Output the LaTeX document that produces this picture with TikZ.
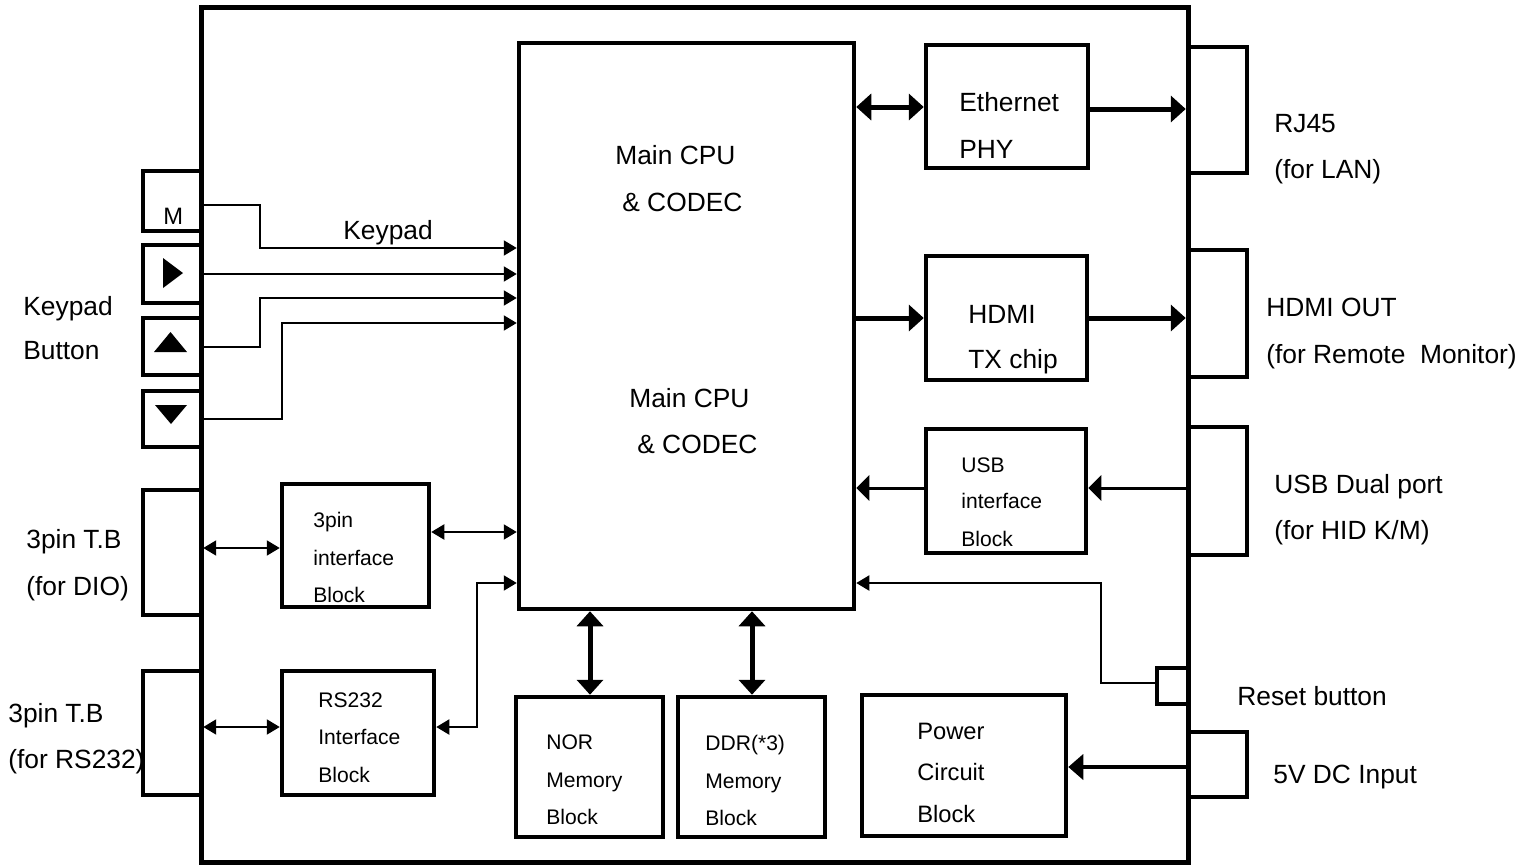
\documentclass[tikz,border=0pt]{standalone}
\usepackage{fontspec}
\setmainfont{Liberation Sans}
\usetikzlibrary{arrows.meta,fit}
\begin{document}
\begin{tikzpicture}[x=0.02cm,y=-0.02cm,
  blk/.style={draw, line width=0.09cm, inner sep=0pt},
  lbl/.style={anchor=base west, inner sep=0pt, font=\fontsize{15}{18}\selectfont},
  slbl/.style={anchor=base west, inner sep=0pt, font=\fontsize{12}{14}\selectfont},
  mlbl/.style={anchor=base west, inner sep=0pt, font=\fontsize{13.5}{16}\selectfont},
  conthin/.style={line width=0.04cm, >={Triangle[length=0.26cm,width=0.3cm]}},
  conmid/.style={line width=0.06cm, >={Triangle[length=0.26cm,width=0.5cm]}},
  conthick/.style={line width=0.1cm, >={Triangle[length=0.3cm,width=0.52cm]}},
  conpow/.style={line width=0.08cm, >={Triangle[length=0.3cm,width=0.5cm]}}
]
\useasboundingbox (0,0) rectangle (1534,866);
% outer enclosure
\node[draw, line width=0.1cm, inner sep=0pt, fit={(201,7) (1188,862)}] (outer) {};
% main blocks
\node[blk, fit={(519,43) (854,609)}] (cpu) {};
\node[blk, fit={(926,45) (1088,168)}] (eth) {};
\node[blk, fit={(926,256) (1087,380)}] (hdmi) {};
\node[blk, fit={(926,429) (1086,553)}] (usbif) {};
\node[blk, fit={(862,695) (1066,836)}] (power) {};
\node[blk, fit={(516,697) (663,837)}] (nor) {};
\node[blk, fit={(678,697) (825,837)}] (ddr) {};
\node[blk, fit={(282,484) (429,607)}] (pinif) {};
\node[blk, fit={(282,671) (434,795)}] (rsif) {};
% left connectors
\node[blk, fit={(143,490) (201,615)}] (diotb) {};
\node[blk, fit={(143,671) (201,795)}] (rstb) {};
\node[blk, fit={(143,171) (201,231)}] (mkey) {};
\node[blk, fit={(143,245) (201,303)}] (rkey) {};
\node[blk, fit={(143,318) (201,375)}] (ukey) {};
\node[blk, fit={(143,391) (201,447)}] (dkey) {};
% right connectors
\node[blk, fit={(1188,47) (1247,173)}] (rj45) {};
\node[blk, fit={(1188,250) (1247,377)}] (hdmiout) {};
\node[blk, fit={(1188,427) (1247,555)}] (usbport) {};
\node[blk, fit={(1157,668) (1188,704)}] (reset) {};
\node[blk, fit={(1188,732) (1247,797)}] (dc) {};
% key glyphs
\fill (163,258) -- (183,273) -- (163,288) -- cycle;
\fill (154,352) -- (170.5,332) -- (187,352) -- cycle;
\fill (155,405) -- (187,405) -- (171,424) -- cycle;
% texts
\node[lbl] (t1) at (615,164) {Main CPU};
\node[lbl] (t2) at (622,211) {\& CODEC};
\node[lbl] (t3) at (629,407) {Main CPU};
\node[lbl] (t4) at (637,453) {\& CODEC};
\node[lbl] (t5) at (959,111) {Ethernet};
\node[lbl] (t6) at (959,158) {PHY};
\node[lbl] (t7) at (968,323) {HDMI};
\node[lbl] (t8) at (968,368) {TX chip};
\node[slbl] (t9) at (961,472) {USB};
\node[slbl] (t10) at (961,508) {interface};
\node[slbl] (t11) at (961,546) {Block};
\node[mlbl] (t12) at (917,739) {Power};
\node[mlbl] (t13) at (917,780) {Circuit};
\node[mlbl] (t14) at (917,822) {Block};
\node[slbl] (t15) at (546,749) {NOR};
\node[slbl] (t16) at (546,787) {Memory};
\node[slbl] (t17) at (546,824) {Block};
\node[slbl] (t18) at (705,750) {DDR(*3)};
\node[slbl] (t19) at (705,788) {Memory};
\node[slbl] (t20) at (705,825) {Block};
\node[slbl] (t21) at (313,527) {3pin};
\node[slbl] (t22) at (313,565) {interface};
\node[slbl] (t23) at (313,602) {Block};
\node[slbl] (t24) at (318,707) {RS232};
\node[slbl] (t25) at (318,744) {Interface};
\node[slbl] (t26) at (318,782) {Block};
\node[lbl] (t27) at (343,239) {Keypad};
\node[mlbl] (t28) at (163,224) {M};
\node[lbl] (t29) at (23,315) {Keypad};
\node[lbl] (t30) at (23,359) {Button};
\node[lbl] (t31) at (26,548) {3pin T.B};
\node[lbl] (t32) at (26,595) {(for DIO)};
\node[lbl] (t33) at (8,722) {3pin T.B};
\node[lbl] (t34) at (8,768) {(for RS232)};
\node[lbl] (t35) at (1274,132) {RJ45};
\node[lbl] (t36) at (1274,178) {(for LAN)};
\node[lbl] (t37) at (1266,316) {HDMI OUT};
\node[lbl] (t38) at (1266,363) {(for Remote\ \ Monitor)};
\node[lbl] (t39) at (1274,493) {USB Dual port};
\node[lbl] (t40) at (1274,539) {(for HID K/M)};
\node[lbl] (t41) at (1237,705) {Reset button};
\node[lbl] (t42) at (1273,783) {5V DC Input};
% helper coordinates
\coordinate (yM) at (0,205);
\coordinate (yM2) at (0,248);
\coordinate (kx1) at (260,0);
\coordinate (kx2) at (282,0);
\coordinate (yU2) at (0,298);
\coordinate (yD2) at (0,323);
\coordinate (yDio) at (0,548);
\coordinate (yPin) at (0,532);
\coordinate (yRs) at (0,727);
\coordinate (yRs2) at (0,583);
\coordinate (rsx) at (477,0);
\coordinate (yEth) at (0,107);
\coordinate (yRj) at (0,109);
\coordinate (yHd) at (0,318);
\coordinate (yUsb) at (0,488);
\coordinate (yRst) at (0,683);
\coordinate (rstx) at (1101,0);
\coordinate (yDc) at (0,767);
\coordinate (xNor) at (590,0);
\coordinate (xDdr) at (752,0);
% keypad connectors
\draw[conthin,->] (mkey.east |- yM) -| (kx1 |- yM2) -- (cpu.west |- yM2);
\draw[conthin,->] (rkey.east) -- (cpu.west |- rkey.east);
\draw[conthin,->] (ukey.east) -| (kx1 |- yU2) -- (cpu.west |- yU2);
\draw[conthin,->] (dkey.east) -| (kx2 |- yD2) -- (cpu.west |- yD2);
% 3pin / RS232
\draw[conthin,<->] (diotb.east |- yDio) -- (pinif.west |- yDio);
\draw[conthin,<->] (pinif.east |- yPin) -- (cpu.west |- yPin);
\draw[conthin,<->] (rstb.east |- yRs) -- (rsif.west |- yRs);
\draw[conthin,<->] (rsif.east |- yRs) -| (rsx |- yRs2) -- (cpu.west |- yRs2);
% right side
\draw[conthick,<->] (cpu.east |- yEth) -- (eth.west |- yEth);
\draw[conthick,->] (eth.east |- yRj) -- (rj45.west |- yRj);
\draw[conthick,->] (cpu.east |- yHd) -- (hdmi.west |- yHd);
\draw[conthick,->] (hdmi.east |- yHd) -- (hdmiout.west |- yHd);
\draw[conmid,->] (usbport.west |- yUsb) -- (usbif.east |- yUsb);
\draw[conmid,->] (usbif.west |- yUsb) -- (cpu.east |- yUsb);
\draw[conthin,->] (reset.west |- yRst) -| (rstx |- yRs2) -- (cpu.east |- yRs2);
\draw[conpow,->] (dc.west |- yDc) -- (power.east |- yDc);
% memory
\draw[conthick,<->] (cpu.south -| xNor) -- (nor.north -| xNor);
\draw[conthick,<->] (cpu.south -| xDdr) -- (ddr.north -| xDdr);
\end{tikzpicture}
\end{document}
